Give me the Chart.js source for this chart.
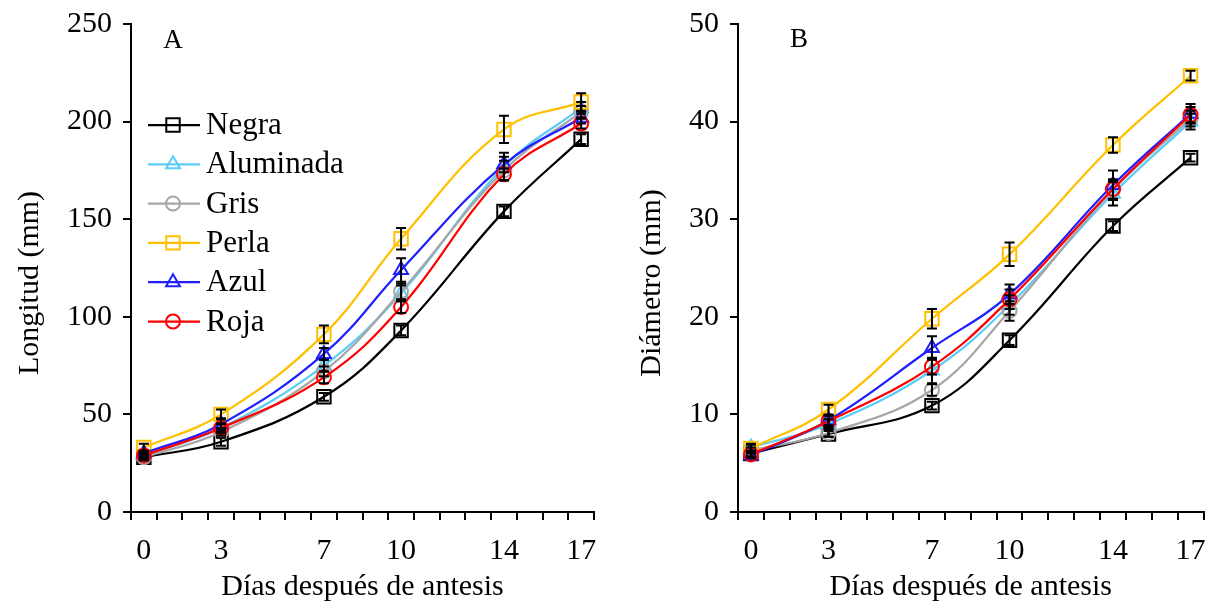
<!DOCTYPE html>
<html>
<head>
<meta charset="utf-8">
<script src="https://cdn.jsdelivr.net/npm/chart.js@4.4.1/dist/chart.umd.min.js"></script>
<style>
  html, body { margin: 0; padding: 0; background: #ffffff; }
  #wrap { position: relative; width: 1215px; height: 602px; }
  canvas { position: absolute; top: 0; }
  #chartA { left: 0; }
  #chartB { left: 607px; }
</style>
</head>
<body>
<div id="wrap">
  <canvas id="chartA" width="607" height="602"></canvas>
  <canvas id="chartB" width="608" height="602"></canvas>
</div>
<script>
// Sampling days (days after anthesis) and the full day axis
const days = [0, 3, 7, 10, 14, 17];
const dayAxis = [0, 1, 2, 3, 4, 5, 6, 7, 8, 9, 10, 11, 12, 13, 14, 15, 16, 17];

// Mesh colour treatments
const seriesNames = ['Negra', 'Aluminada', 'Gris', 'Perla', 'Azul', 'Roja'];
const seriesColors = ['#000000', '#5CCDF7', '#A6A6A6', '#FFC000', '#1F1FFF', '#FF0000'];
const seriesMarkers = ['rect', 'triangle', 'circle', 'rect', 'triangle', 'circle'];
const markerRadius = [9.5, 8, 7, 9.5, 8, 7];

// Fruit length (mm)
const lenNegra     = [28, 36, 59, 93, 154, 191];
const lenAluminada = [29, 43, 75, 112, 177, 207];
const lenGris      = [28, 41, 72, 113, 175, 205];
const lenPerla     = [33, 50, 91, 140, 196, 210];
const lenAzul      = [30, 45, 81, 124, 178, 202];
const lenRoja      = [29, 43, 69, 105, 173, 199];

// Standard error of length (mm)
const errLenNegra     = [1.5, 2, 2, 2.5, 2.5, 2.5];
const errLenAluminada = [1.5, 2, 3, 4, 7, 3];
const errLenGris      = [1.5, 2, 2.5, 4, 5, 3];
const errLenPerla     = [2, 2.5, 4.5, 5.5, 7, 4.5];
const errLenAzul      = [1.5, 3, 3, 6, 4, 3];
const errLenRoja      = [1.5, 2.5, 3, 3, 3, 2.5];

// Fruit diameter (mm)
const diaNegra     = [6.0, 8.0, 10.9, 17.6, 29.3, 36.3];
const diaAluminada = [6.6, 9.0, 14.5, 21.2, 32.6, 40.0];
const diaGris      = [6.3, 8.1, 12.5, 20.6, 33.0, 40.3];
const diaPerla     = [6.5, 10.5, 19.8, 26.4, 37.6, 44.7];
const diaAzul      = [5.8, 9.4, 16.8, 22.3, 33.5, 40.8];
const diaRoja      = [5.9, 9.3, 14.9, 21.8, 33.1, 40.7];

// Standard error of diameter (mm)
const errDiaNegra     = [0.3, 0.3, 0.4, 0.5, 0.5, 0.4];
const errDiaAluminada = [0.4, 0.5, 1.3, 1.0, 1.2, 0.8];
const errDiaGris      = [0.3, 0.4, 0.6, 1.0, 1.0, 0.8];
const errDiaPerla     = [0.4, 0.5, 1.0, 1.2, 0.8, 0.5];
const errDiaAzul      = [0.3, 0.5, 1.2, 1.0, 1.5, 1.0];
const errDiaRoja      = [0.3, 0.6, 0.8, 1.0, 1.0, 0.8];

const serifFont = "'Liberation Serif', 'Times New Roman', serif";
Chart.defaults.font.family = serifFont;
Chart.defaults.font.size = 30;
Chart.defaults.color = '#000000';

function buildDatasets(valueSets, errorSets) {
  return valueSets.map((vals, s) => ({
    label: seriesNames[s],
    data: days.map((d, i) => ({ x: d, y: vals[i] })),
    errors: errorSets[s],
    borderColor: seriesColors[s],
    backgroundColor: 'rgba(0,0,0,0)',
    borderWidth: 2.25,
    tension: 0.4,
    fill: false,
    pointStyle: seriesMarkers[s],
    pointRadius: markerRadius[s],
    pointBorderWidth: 2,
    pointBorderColor: seriesColors[s],
    pointBackgroundColor: 'rgba(0,0,0,0)',
    order: seriesNames.length - s
  }));
}

// Vertical error bars with caps, drawn through the chart's scales
const errorBarPlugin = {
  id: 'errorBars',
  afterDatasetsDraw(chart) {
    const { ctx } = chart;
    const yScale = chart.scales.y;
    ctx.save();
    ctx.strokeStyle = '#000000';
    ctx.lineWidth = 2;
    chart.data.datasets.forEach((ds, di) => {
      const meta = chart.getDatasetMeta(di);
      ds.data.forEach((pt, i) => {
        const e = ds.errors[i];
        const px = meta.data[i].x;
        const yTop = yScale.getPixelForValue(pt.y + e);
        const yBot = yScale.getPixelForValue(pt.y - e);
        ctx.beginPath();
        ctx.moveTo(px, yTop); ctx.lineTo(px, yBot);
        ctx.moveTo(px - 5, yTop); ctx.lineTo(px + 5, yTop);
        ctx.moveTo(px - 5, yBot); ctx.lineTo(px + 5, yBot);
        ctx.stroke();
      });
    });
    ctx.restore();
  }
};

// Panel letter in the upper-left of the plot area
const panelLabelPlugin = {
  id: 'panelLabel',
  afterDraw(chart, args, opts) {
    const { ctx, chartArea } = chart;
    ctx.save();
    ctx.font = '27px ' + serifFont;
    ctx.fillStyle = '#000000';
    ctx.textAlign = 'center';
    ctx.textBaseline = 'middle';
    ctx.fillText(opts.text, chartArea.left + opts.dx, chartArea.top + opts.dy);
    ctx.restore();
  }
};

// Line-and-marker legend inside the plot area
const lineLegendPlugin = {
  id: 'lineLegend',
  afterDraw(chart, args, opts) {
    if (!opts.show) return;
    const { ctx, chartArea } = chart;
    const x0 = chartArea.left + 17, x1 = chartArea.left + 69, xm = chartArea.left + 42;
    ctx.save();
    chart.data.datasets.forEach((ds, i) => {
      const y = chartArea.top + 101 + i * 39.3;
      ctx.strokeStyle = ds.borderColor;
      ctx.lineWidth = 2.25;
      ctx.beginPath(); ctx.moveTo(x0, y); ctx.lineTo(x1, y); ctx.stroke();
      ctx.lineWidth = 2;
      ctx.fillStyle = 'rgba(0,0,0,0)';
      Chart.helpers.drawPoint(ctx, { pointStyle: ds.pointStyle, radius: ds.pointRadius, borderWidth: 2, rotation: 0 }, xm, y);
      ctx.fillStyle = '#000000';
      ctx.font = '31px ' + serifFont;
      ctx.textAlign = 'left';
      ctx.textBaseline = 'middle';
      ctx.fillText(ds.label, chartArea.left + 75, y + 1);
    });
    ctx.restore();
  }
};

function makePanel(canvasId, cfg) {
  return new Chart(document.getElementById(canvasId), {
    type: 'line',
    data: { labels: dayAxis, datasets: buildDatasets(cfg.values, cfg.errors) },
    options: {
      responsive: false,
      animation: false,
      layout: { padding: { top: 24, right: cfg.padRight, bottom: 0, left: 0 } },
      scales: {
        x: {
          type: 'category',
          offset: true,
          grid: { offset: true, drawOnChartArea: false, drawTicks: true, tickLength: 8, color: '#000000', lineWidth: 2 },
          border: { display: true, color: '#000000', width: 2 },
          ticks: {
            autoSkip: false, maxRotation: 0, minRotation: 0, padding: 2, color: '#000000',
            font: { size: 30, lineHeight: 1.93 },
            callback(value, index) {
              const d = dayAxis[index];
              return days.includes(d) ? String(d) : '';
            }
          },
          title: { display: true, text: 'Días después de antesis', color: '#000000', padding: { top: 0, bottom: -3 } },
          afterFit(scale) { scale.height = 90; }
        },
        y: {
          min: 0, max: cfg.yMax,
          grid: { drawOnChartArea: false, drawTicks: true, tickLength: 8, color: '#000000', lineWidth: 2 },
          border: { display: true, color: '#000000', width: 2 },
          ticks: { stepSize: cfg.yStep, padding: 11, color: '#000000', font: { size: 30, lineHeight: 0.8 } },
          title: { display: true, text: cfg.yTitle, color: '#000000', padding: { top: cfg.titlePad, bottom: 0 } },
          afterFit(scale) { scale.width = 131; }
        }
      },
      plugins: {
        legend: { display: false },
        tooltip: { enabled: false },
        panelLabel: cfg.panel,
        lineLegend: { show: cfg.legend }
      }
    },
    plugins: [errorBarPlugin, panelLabelPlugin, lineLegendPlugin]
  });
}

makePanel('chartA', {
  values: [lenNegra, lenAluminada, lenGris, lenPerla, lenAzul, lenRoja],
  errors: [errLenNegra, errLenAluminada, errLenGris, errLenPerla, errLenAzul, errLenRoja],
  yMax: 250, yStep: 50, yTitle: 'Longitud (mm)    ', titlePad: 12, padRight: 13,
  panel: { text: 'A', dx: 42, dy: 17 }, legend: true
});

makePanel('chartB', {
  values: [diaNegra, diaAluminada, diaGris, diaPerla, diaAzul, diaRoja],
  errors: [errDiaNegra, errDiaAluminada, errDiaGris, errDiaPerla, errDiaAzul, errDiaRoja],
  yMax: 50, yStep: 10, yTitle: 'Diámetro (mm)    ', titlePad: 27, padRight: 5,
  panel: { text: 'B', dx: 61, dy: 16 }, legend: false
});
</script>
</body>
</html>
